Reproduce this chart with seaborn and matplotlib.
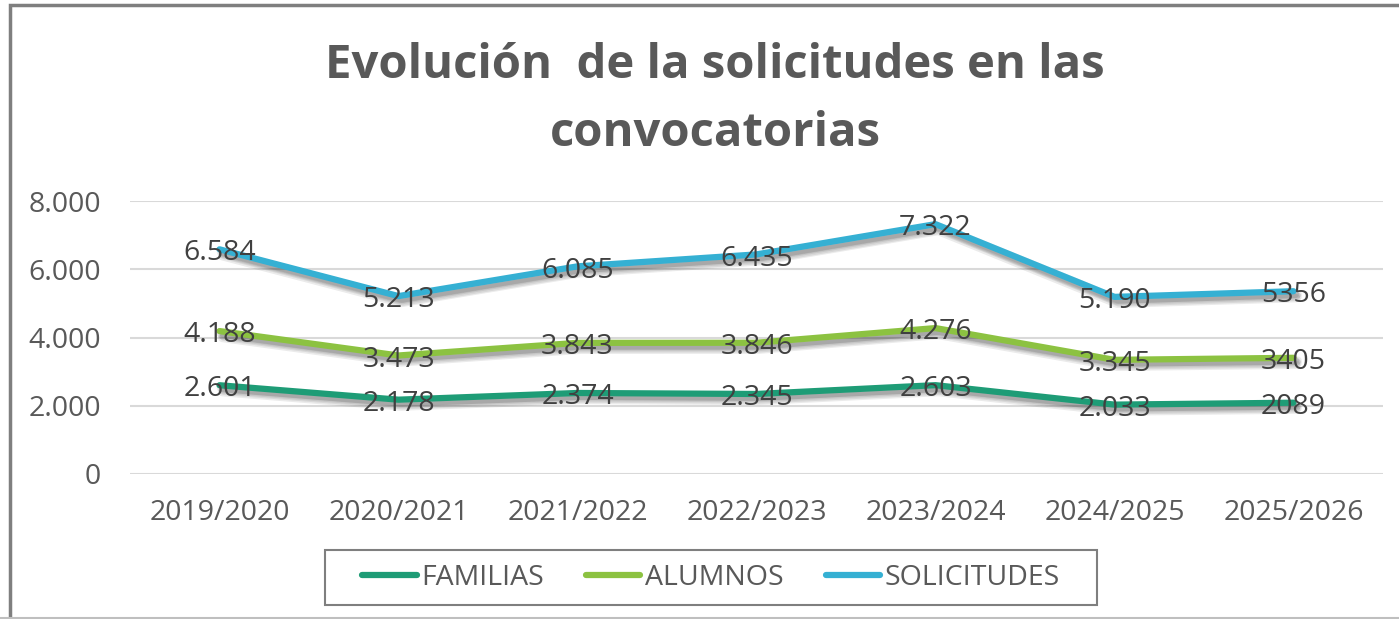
import pandas as pd
import matplotlib.pyplot as plt
import matplotlib.patheffects as pe
from matplotlib.patches import Rectangle
from matplotlib.lines import Line2D
import seaborn as sns

# Datos
convocatorias = ['2019/2020', '2020/2021', '2021/2022', '2022/2023', '2023/2024', '2024/2025', '2025/2026']
familias = [2601, 2178, 2374, 2345, 2603, 2033, 2089]
alumnos = [4188, 3473, 3843, 3846, 4276, 3345, 3405]
solicitudes = [6584, 5213, 6085, 6435, 7322, 5190, 5356]
etiq_familias = ['2.601', '2.178', '2.374', '2.345', '2.603', '2.033', '2089']
etiq_alumnos = ['4.188', '3.473', '3.843', '3.846', '4.276', '3.345', '3405']
etiq_solicitudes = ['6.584', '5.213', '6.085', '6.435', '7.322', '5.190', '5356']
series = ['FAMILIAS', 'ALUMNOS', 'SOLICITUDES']
colores = ['#1e9c76', '#8cc241', '#35b0d3']
yticks = [0, 2000, 4000, 6000, 8000]
ytick_labels = ['0', '2.000', '4.000', '6.000', '8.000']

df = pd.DataFrame({
    'convocatoria': convocatorias * 3,
    'valor': familias + alumnos + solicitudes,
    'serie': [s for s in series for _ in convocatorias],
})

sns.set_style('white')
plt.rcParams['font.family'] = ['Open Sans', 'DejaVu Sans']

fig = plt.figure(figsize=(13.99, 6.19), dpi=100)
ax = fig.add_axes([130 / 1399, 1 - 474 / 619, (1383 - 130) / 1399, (474 - 201) / 619])

sns.lineplot(data=df, x='convocatoria', y='valor', hue='serie', hue_order=series,
             palette=colores, linewidth=4.5, legend=False, ax=ax, sort=False)

# sombra difusa
sombra = [pe.SimpleLineShadow(offset=(dx, dy), shadow_color='k', alpha=0.08, linewidth=6)
          for dx, dy in [(1, -2), (2, -3), (3, -4), (2, -5), (3, -2)]]
for line in ax.get_lines():
    line.set_solid_capstyle('round')
    line.set_path_effects(sombra + [pe.Normal()])

for vals, etiq in [(familias, etiq_familias), (alumnos, etiq_alumnos), (solicitudes, etiq_solicitudes)]:
    for i, (v, t) in enumerate(zip(vals, etiq)):
        ax.annotate(t, (i, v), xytext=(0, -3), textcoords='offset points', ha='center', va='center',
                    fontsize=20.5, color='#404040', zorder=5)

ax.set_xlim(-0.5, len(convocatorias) - 0.5)
ax.set_ylim(0, 8000)
ax.set_yticks(yticks)
ax.set_yticklabels(ytick_labels)
ax.yaxis.grid(True, color='#d9d9d9', linewidth=1.5)
ax.set_axisbelow(True)
for s in ax.spines.values():
    s.set_visible(False)
ax.tick_params(axis='both', length=0, labelsize=20.5, labelcolor='#595959')
ax.tick_params(axis='y', pad=21)
ax.tick_params(axis='x', pad=18)
ax.set_xlabel('')
ax.set_ylabel('')

fig.text(0.511, 1 - 65 / 619, 'Evolución  de la solicitudes en las', ha='center', va='center',
         fontsize=34, fontweight='bold', color='#595959')
fig.text(0.511, 1 - 133 / 619, 'convocatorias', ha='center', va='center',
         fontsize=34, fontweight='bold', color='#595959')

# leyenda sin marco, el recuadro se dibuja aparte
handles = [Line2D([0], [0], color=c, linewidth=4.5, solid_capstyle='round') for c in colores]
fig.legend(handles, series, loc='center', bbox_to_anchor=(711 / 1399, 1 - 578 / 619),
           ncol=3, frameon=False, fontsize=20.5, labelcolor='#595959',
           handlelength=1.9, handletextpad=0.15, columnspacing=1.5)
fig.patches.append(Rectangle((325 / 1399, 1 - 605 / 619), 772 / 1399, 55 / 619,
                             transform=fig.transFigure, fill=False,
                             edgecolor='#7f7f7f', linewidth=1.5))

# marco del gráfico
fig.patches.append(Rectangle((10 / 1399, -0.1), 1.2, 1 - 5 / 619 + 0.1, transform=fig.transFigure,
                             fill=False, edgecolor='#7f7f7f', linewidth=2.5))
fig.lines.append(Line2D([0, 1], [1 / 619, 1 / 619], transform=fig.transFigure,
                        color='#bfbfbf', linewidth=1.5))

fig.savefig('out.png', dpi=100)
